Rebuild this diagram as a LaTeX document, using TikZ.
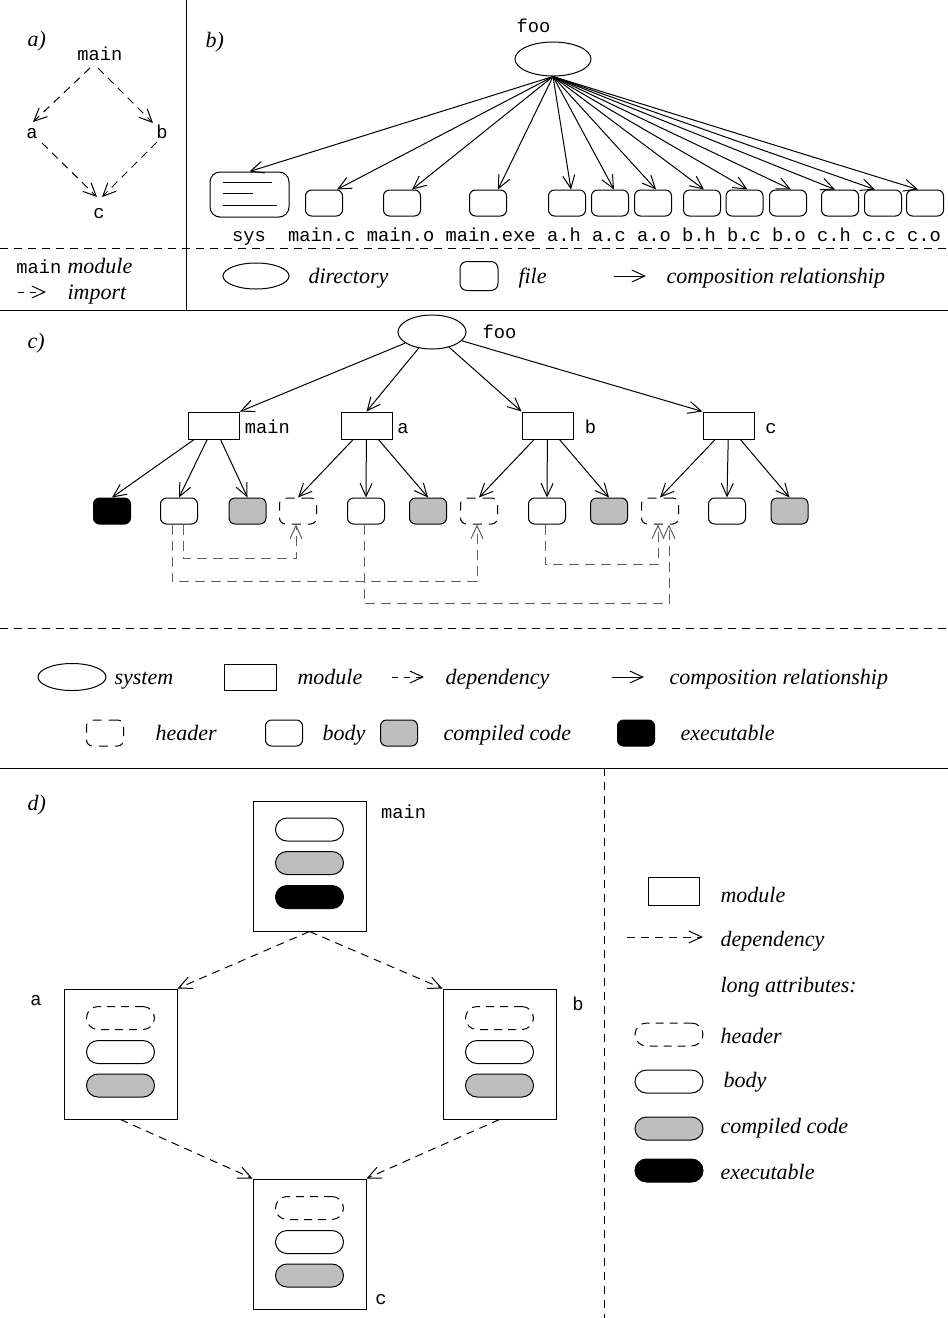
\documentclass[tikz,border=0pt]{standalone}
\usepackage{fontspec}
\setmainfont{Liberation Serif}
\newfontfamily\monof{Liberation Mono}
\usetikzlibrary{arrows.meta,shapes.geometric,calc}
\definecolor{cgray}{RGB}{190,190,190}
\definecolor{depgray}{RGB}{95,95,95}
\begin{document}
\begin{tikzpicture}[x=1pt,y=-1pt,line width=1pt,
  tt/.style={font=\monof\fontsize{18.75}{20}\selectfont, inner sep=0pt, anchor=base},
  it/.style={font=\itshape\fontsize{22}{24}\selectfont, inner sep=0pt, anchor=base west},
  vtip/.style={-{Straight Barb[length=13pt,width=12pt]}},
  comp/.style={vtip},
  dashd/.style={dash pattern=on 8pt off 6pt},
  depar/.style={dash pattern=on 8pt off 6pt, vtip},
  cdep/.style={draw=depgray, dash pattern=on 10pt off 6pt, vtip},
  dirl/.style={draw, ellipse, inner sep=0pt},
  filebox/.style={draw, rounded corners=6pt, minimum width=37pt, minimum height=26pt, inner sep=0pt},
  modbox/.style={draw, rectangle, minimum width=51pt, minimum height=27pt, inner sep=0pt},
  hdrbox/.style={filebox, dash pattern=on 9pt off 7pt},
  bodybox/.style={filebox, fill=white},
  cmpbox/.style={filebox, fill=cgray},
  exebox/.style={filebox, fill=black},
  pill/.style={draw, rounded corners=11.5pt, minimum width=68pt, minimum height=23pt, inner sep=0pt},
  hdrpill/.style={pill, dash pattern=on 8pt off 6pt},
  cmppill/.style={pill, fill=cgray},
  exepill/.style={pill, fill=black},
  bigmod/.style={draw, rectangle, minimum width=113pt, minimum height=130pt, inner sep=0pt},
]
\useasboundingbox (0,0) rectangle (948,1318);

% ---------- separators ----------
\draw (186,0) -- (186,310);
\draw[dashd] (0,248) -- (948,248);
\draw (0,310) -- (948,310);
\draw[dashd] (0,628) -- (948,628);
\draw (0,768) -- (948,768);
\draw[dashd] (604,768) -- (604,1318);

% ---------- panel a ----------
\node[it] (pa) at (27,46) {a)};
\node[tt] (amain) at (100,60) {main};
\node[tt] (aa) at (32,138) {a};
\node[tt] (ab) at (162,138) {b};
\node[tt] (ac) at (99,218) {c};
\draw[depar] ($(amain.base)+(-10,8)$) -- ($(aa.base)+(1,-16)$);
\draw[depar] ($(amain.base)+(-2,8)$) -- ($(ab.base)+(-9,-15)$);
\draw[depar] ($(aa.base)+(10,5)$) -- ($(ac.base)+(-2,-21)$);
\draw[depar] ($(ab.base)+(-5,4)$) -- ($(ac.base)+(3,-21)$);
% legend a
\node[tt] (kmain) at (39,273) {main};
\node[it] (kmod) at (67,273) {module};
\coordinate (kd1) at (18,292);
\coordinate (kd2) at (46,292);
\draw[dash pattern=on 6pt off 6pt, vtip] (kd1) -- (kd2);
\node[it] (kimp) at (67,299) {import};

% ---------- panel b ----------
\node[it] (pb) at (205,47) {b)};
\node[tt] (foo) at (533.5,32) {foo};
\node[dirl, minimum width=76pt, minimum height=34pt] (dir) at (553,59) {};
\node[draw, rounded corners=10pt, minimum width=79pt, minimum height=45pt, inner sep=0pt] (sys) at (249.5,194.5) {};
\draw ($(sys.north west)+(13,11)$) -- ++(49,0);
\draw ($(sys.north west)+(13,22)$) -- ++(30,0);
\draw ($(sys.north west)+(13,34)$) -- ++(54,0);
\node[filebox] (fmc) at (324,203) {};
\node[filebox] (fmo) at (402,203) {};
\node[filebox] (fme) at (488,203) {};
\node[filebox] (fah) at (567,203) {};
\node[filebox] (fac) at (610,203) {};
\node[filebox] (fao) at (653,203) {};
\node[filebox] (fbh) at (702,203) {};
\node[filebox] (fbc) at (744.5,203) {};
\node[filebox] (fbo) at (788,203) {};
\node[filebox] (fch) at (840,203) {};
\node[filebox] (fcc) at (883,203) {};
\node[filebox] (fco) at (925,203) {};
\draw[comp] (dir.south) -- (sys.north);
\draw[comp] (dir.south) -- ($(fmc.north)+(13,0)$);
\draw[comp] (dir.south) -- ($(fmo.north)+(10,0)$);
\draw[comp] (dir.south) -- ($(fme.north)+(10,0)$);
\draw[comp] (dir.south) -- ($(fah.north)+(4,0)$);
\draw[comp] (dir.south) -- ($(fac.north)+(4,0)$);
\draw[comp] (dir.south) -- ($(fao.north)+(3,0)$);
\draw[comp] (dir.south) -- ($(fbh.north)+(2,0)$);
\draw[comp] (dir.south) -- ($(fbc.north)+(3,0)$);
\draw[comp] (dir.south) -- ($(fbo.north)+(3,0)$);
\draw[comp] (dir.south) -- ($(fch.north)+(-5,0)$);
\draw[comp] (dir.south) -- ($(fcc.north)+(-8,0)$);
\draw[comp] (dir.south) -- ($(fco.north)+(-7,0)$);
\node[tt] (tsys) at (248.9,241) {sys};
\node[tt] (tmc) at (322,241) {main.c};
\node[tt] (tmo) at (400.75,241) {main.o};
\node[tt] (tme) at (490.75,241) {main.exe};
\node[tt] (tah) at (563.9,241) {a.h};
\node[tt] (tac) at (608.9,241) {a.c};
\node[tt] (tao) at (653.9,241) {a.o};
\node[tt] (tbh) at (698.9,241) {b.h};
\node[tt] (tbc) at (743.9,241) {b.c};
\node[tt] (tbo) at (788.9,241) {b.o};
\node[tt] (tch) at (833.9,241) {c.h};
\node[tt] (tcc) at (878.9,241) {c.c};
\node[tt] (tco) at (923.9,241) {c.o};
% legend b
\node[dirl, minimum width=66pt, minimum height=26pt] (kdir) at (256,276) {};
\node[it] (kdirt) at (308,283) {directory};
\node[draw, rounded corners=7pt, minimum width=38pt, minimum height=29pt, inner sep=0pt] (kfile) at (479,276) {};
\node[it] (kfilet) at (518,283) {file};
\coordinate (kc1) at (614,276);
\coordinate (kc2) at (646,276);
\draw[comp] (kc1) -- (kc2);
\node[it] (kcompt) at (666,283) {composition relationship};

% ---------- panel c ----------
\node[it] (pc) at (27,348) {c)};
\node[dirl, minimum width=68pt, minimum height=34pt] (sysc) at (432,332) {};
\node[tt] (fooc) at (499.5,338) {foo};
\node[modbox] (mm) at (214,425.5) {};
\node[modbox] (ma) at (366.5,425.5) {};
\node[modbox] (mb) at (547.5,425.5) {};
\node[modbox] (mc) at (728.5,425.5) {};
\node[tt] (tmm) at (267.5,433) {main};
\node[tt] (tma) at (403,433) {a};
\node[tt] (tmb) at (590.5,433) {b};
\node[tt] (tmc2) at (771,433) {c};
\node[exebox] (l1) at (112,511) {};
\node[bodybox] (w1) at (179,511) {};
\node[cmpbox] (g1) at (247.5,511) {};
\node[hdrbox] (h1) at (298,511) {};
\node[bodybox] (w2) at (366,511) {};
\node[cmpbox] (g2) at (428,511) {};
\node[hdrbox] (h2) at (479,511) {};
\node[bodybox] (w3) at (547,511) {};
\node[cmpbox] (g3) at (609,511) {};
\node[hdrbox] (h3) at (660,511) {};
\node[bodybox] (w4) at (727,511) {};
\node[cmpbox] (g4) at (789.5,511) {};
\draw[comp] (sysc) -- (mm.north east);
\draw[comp] (sysc) -- (ma.north);
\draw[comp] (sysc) -- (mb.north west);
\draw[comp] (sysc) -- (mc.north west);
\draw[comp] (mm) -- (l1.north);
\draw[comp] (mm) -- (w1.north);
\draw[comp] (mm) -- (g1.north);
\draw[comp] (ma) -- (h1.north);
\draw[comp] (ma) -- (w2.north);
\draw[comp] (ma) -- (g2.north);
\draw[comp] (mb) -- (h2.north);
\draw[comp] (mb) -- (w3.north);
\draw[comp] (mb) -- (g3.north);
\draw[comp] (mc) -- (h3.north);
\draw[comp] (mc) -- (w4.north);
\draw[comp] (mc) -- (g4.north);
\draw[cdep] ($(w1.south)+(4,0)$) -- ++(0,34) -| ($(h1.south)+(-2,0)$);
\draw[cdep] ($(w1.south)+(-7,0)$) -- ++(0,57) -| ($(h2.south)+(-2,0)$);
\draw[cdep] ($(w2.south)+(-2,0)$) -- ++(0,79) -| ($(h3.south)+(9,0)$);
\draw[cdep] ($(w3.south)+(-2,0)$) -- ++(0,40) -| ($(h3.south)+(-2,0)$);
% legend c
\node[dirl, minimum width=68pt, minimum height=27pt] (ksys) at (72,677) {};
\node[it] (ksyst) at (114,684) {system};
\node[draw, minimum width=52pt, minimum height=26pt, inner sep=0pt] (kmodc) at (250,677) {};
\node[it] (kmodct) at (297,684) {module};
\coordinate (kdc1) at (392,677);
\coordinate (kdc2) at (424,677);
\draw[dash pattern=on 6pt off 6pt, vtip] (kdc1) -- (kdc2);
\node[it] (kdept) at (445,684) {dependency};
\coordinate (kcc1) at (612,677);
\coordinate (kcc2) at (644,677);
\draw[comp] (kcc1) -- (kcc2);
\node[it] (kcomp2) at (669,684) {composition relationship};
\node[hdrbox] (khdr) at (105,733) {};
\node[it] (khdrt) at (155,740) {header};
\node[bodybox] (kbody) at (284,733) {};
\node[it] (kbodyt) at (322,740) {body};
\node[cmpbox] (kcmp) at (399,733) {};
\node[it] (kcmpt) at (443,740) {compiled code};
\node[exebox] (kexe) at (636,733) {};
\node[it] (kexet) at (680,740) {executable};

% ---------- panel d ----------
\node[it] (pd) at (27,810) {d)};
\node[bigmod] (dm) at (309.5,866) {};
\node[pill] at ($(dm)+(0,-36.5)$) (dm1) {};
\node[cmppill] at ($(dm)+(0,-3)$) (dm2) {};
\node[exepill] at ($(dm)+(0,31)$) (dm3) {};
\node[tt] (tdm) at (403.5,818) {main};
\node[bigmod] (da) at (120.5,1054) {};
\node[hdrpill] at ($(da)+(0,-36)$) (da1) {};
\node[pill] at ($(da)+(0,-2)$) (da2) {};
\node[cmppill] at ($(da)+(0,31.5)$) (da3) {};
\node[tt] (tda) at (36,1005) {a};
\node[bigmod] (db) at (499.5,1054) {};
\node[hdrpill] at ($(db)+(0,-36)$) (db1) {};
\node[pill] at ($(db)+(0,-2)$) (db2) {};
\node[cmppill] at ($(db)+(0,31.5)$) (db3) {};
\node[tt] (tdb) at (578,1010) {b};
\node[bigmod] (dc) at (309.5,1244) {};
\node[hdrpill] at ($(dc)+(0,-36)$) (dc1) {};
\node[pill] at ($(dc)+(0,-2)$) (dc2) {};
\node[cmppill] at ($(dc)+(0,31.5)$) (dc3) {};
\node[tt] (tdc) at (381,1304) {c};
\draw[depar] (dm.south) -- (da.north east);
\draw[depar] (dm.south) -- (db.north west);
\draw[depar] (da.south) -- (dc.north west);
\draw[depar] (db.south) -- (dc.north east);
% legend d
\node[draw, minimum width=51pt, minimum height=28pt, inner sep=0pt] (kdm) at (673.5,891) {};
\node[it] (kdmt) at (720,902) {module};
\coordinate (kdd1) at (627,937);
\coordinate (kdd2) at (703,937);
\draw[depar] (kdd1) -- (kdd2);
\node[it] (kddt) at (720,946) {dependency};
\node[it] (klong) at (720,992) {long attributes:};
\node[hdrpill] (kph) at (669,1034.5) {};
\node[it] (kpht) at (720,1043) {header};
\node[pill] (kpb) at (669,1081.5) {};
\node[it] (kpbt) at (723,1087) {body};
\node[cmppill] (kpc) at (669,1128.5) {};
\node[it] (kpct) at (720,1133) {compiled code};
\node[exepill] (kpe) at (669,1170.5) {};
\node[it] (kpet) at (720,1179) {executable};
\end{tikzpicture}
\end{document}
